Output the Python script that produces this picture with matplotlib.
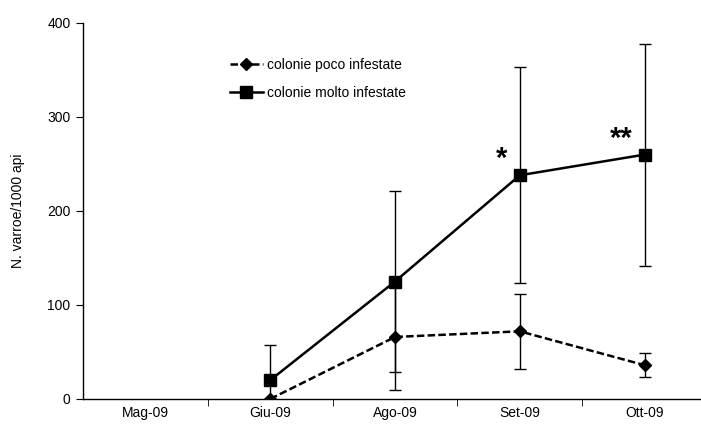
import numpy as np
import matplotlib
matplotlib.use("Agg")
import matplotlib.pyplot as plt
from matplotlib.lines import Line2D

plt.rcParams["font.family"] = ["Liberation Sans", "DejaVu Sans"]

MONTHS = ["Mag-09", "Giu-09", "Ago-09", "Set-09", "Ott-09"]

# varroa per 1000 bees, mean and error (NaN = no sample)
POCO_MEAN = [np.nan, 0, 66, 72, 36]
POCO_ERR = [np.nan, 0, 56, 40, 13]
MOLTO_MEAN = [np.nan, 20, 125, 238, 260]
MOLTO_ERR = [np.nan, 37, 96, 115, 118]

SIGNIF = {"Set-09": "*", "Ott-09": "**"}

fig = plt.figure(figsize=(7.01, 4.28), dpi=100)
ax = fig.add_axes([83 / 701, 29 / 428, 624 / 701, 376 / 428])

x = np.arange(len(MONTHS))
ax.errorbar(x, POCO_MEAN, yerr=POCO_ERR, color="black", lw=1.8, ls=(0, (3, 1.3)),
            marker="D", ms=6, elinewidth=1.0, capsize=4, capthick=1.0, zorder=3)
ax.errorbar(x, MOLTO_MEAN, yerr=MOLTO_ERR, color="black", lw=1.8, ls="-",
            marker="s", ms=8, elinewidth=1.0, capsize=4, capthick=1.0, zorder=3)

for month, mark in SIGNIF.items():
    i = MONTHS.index(month)
    ax.text(i - 0.1, MOLTO_MEAN[i] + 2, mark, ha="right", va="bottom",
            fontsize=21, fontweight="bold")

ax.set_xlim(-0.5, 4.5)
ax.set_ylim(0, 400)
ax.set_yticks([0, 100, 200, 300, 400])
ax.set_xticks(x)
ax.set_xticklabels(MONTHS)
ax.set_xticks(np.arange(0.5, 4.5, 1), minor=True)
ax.tick_params(axis="x", which="major", length=0, pad=5, labelsize=10)
ax.tick_params(axis="x", which="minor", length=5, direction="out")
ax.tick_params(axis="y", length=5, direction="out", labelsize=10, pad=4)
ax.set_ylabel("N. varroe/1000 api", fontsize=10, labelpad=16)

for side in ["top", "right"]:
    ax.spines[side].set_visible(False)
for side in ["left", "bottom"]:
    ax.spines[side].set_linewidth(1.0)

handles = [
    Line2D([], [], color="black", lw=1.8, ls=(0, (3, 1.3)), marker="D", ms=6),
    Line2D([], [], color="black", lw=1.8, marker="s", ms=8),
]
ax.legend(handles, ["colonie poco infestate", "colonie molto infestate"],
          loc="upper left", bbox_to_anchor=(0.215, 0.94), frameon=False,
          fontsize=10, handlelength=2.4, handletextpad=0.3, labelspacing=1.0)

fig.savefig("out.png", dpi=100)
